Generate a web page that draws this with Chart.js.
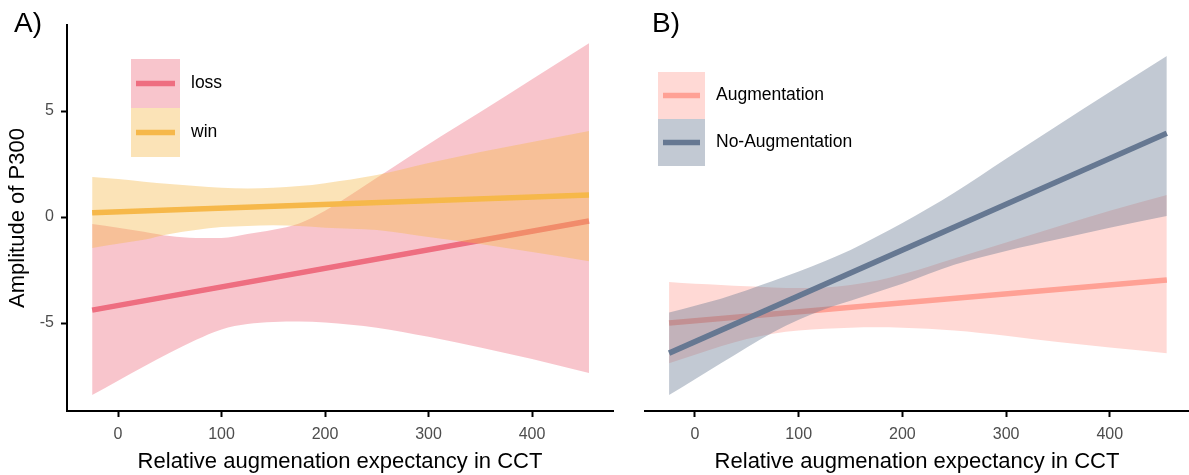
<!DOCTYPE html>
<html>
<head>
<meta charset="utf-8">
<script src="https://cdn.jsdelivr.net/npm/chart.js@4.4.1/dist/chart.umd.min.js"></script>
<style>
  body { margin: 0; background: #fff; }
  #wrap { position: relative; width: 1189px; height: 475px; }
  .panel { position: absolute; top: 0; height: 475px; }
  #panelA { left: 0; width: 620px; }
  #panelB { left: 620px; width: 569px; }
</style>
</head>
<body>
<div id="wrap">
  <div class="panel" id="panelA"><canvas id="chartA"></canvas></div>
  <div class="panel" id="panelB"><canvas id="chartB"></canvas></div>
</div>
<script>
const xGrid = [-25, 0, 25, 50, 75, 100, 125, 150, 175, 200, 250, 300, 350, 400, 455];
const lineX = [-25, 455];

// Panel A: loss / win
const lossUpper = [-0.33, -0.5, -0.69, -0.9, -0.99, -0.99, -0.8, -0.6, -0.3, 0.3, 1.85, 3.44, 4.95, 6.5, 8.2];
const lossLower = [-8.4, -7.72, -7.05, -6.4, -5.8, -5.3, -5.05, -4.95, -4.93, -4.97, -5.22, -5.65, -6.15, -6.7, -7.36];
const lossLine = [-4.39, -0.19];
const winUpper = [1.89, 1.79, 1.67, 1.56, 1.46, 1.38, 1.35, 1.38, 1.46, 1.6, 1.98, 2.55, 3.07, 3.54, 4.06];
const winLower = [-1.46, -1.26, -1.07, -0.8, -0.61, -0.47, -0.42, -0.39, -0.42, -0.5, -0.61, -0.94, -1.27, -1.65, -2.08];
const winLine = [0.2, 1.04];

// Panel B: Augmentation / No-Augmentation
const augUpper = [-3.07, -3.15, -3.2, -3.27, -3.32, -3.35, -3.32, -3.2, -3.0, -2.7, -1.95, -1.2, -0.45, 0.3, 1.04];
const augLower = [-6.9, -6.5, -6.1, -5.75, -5.5, -5.35, -5.27, -5.22, -5.2, -5.22, -5.35, -5.6, -5.9, -6.15, -6.42];
const augLine = [-5.0, -2.97];
const noAugUpper = [-4.5, -4.18, -3.85, -3.45, -3.02, -2.57, -2.08, -1.55, -0.93, -0.28, 1.15, 2.75, 4.33, 5.9, 7.6];
const noAugLower = [-8.4, -7.65, -6.9, -6.15, -5.45, -4.85, -4.35, -3.95, -3.55, -3.15, -2.25, -1.6, -1.05, -0.5, 0.05];
const noAugLine = [-6.42, 3.95];

const xTicks = [0, 100, 200, 300, 400];
const yTicks = [-5, 0, 5];
const xTitle = 'Relative augmenation expectancy in CCT';
const yTitle = 'Amplitude of P300';

Chart.defaults.font.family = '"Liberation Sans", Arial, sans-serif';
Chart.defaults.animation = false;

const pts = (xs, ys) => xs.map((x, i) => ({ x, y: ys[i] }));
const fade = (rgb) => rgb.replace('rgb(', 'rgba(').replace(')', ',0.4)');

// three datasets per group: band top (filled down to band bottom), band bottom, fitted line
function group(label, color, upper, lower, line, first, order) {
  return [
    { label: label + ' upper', data: pts(xGrid, upper), fill: first + 1, backgroundColor: fade(color),
      borderWidth: 0, pointRadius: 0, cubicInterpolationMode: 'monotone', order: order + 1 },
    { label: label + ' lower', data: pts(xGrid, lower), fill: false, borderWidth: 0,
      pointRadius: 0, cubicInterpolationMode: 'monotone', order: order + 1 },
    { label, data: pts(lineX, line), borderColor: color, borderWidth: 5.5, pointRadius: 0,
      fill: false, order }
  ];
}

// legend with filled square keys, plus the panel tag
const keyLegend = {
  id: 'keyLegend',
  afterDatasetsDraw(chart, args, opts) {
    const { ctx } = chart;
    const ds = chart.data.datasets;
    ctx.save();
    opts.items.forEach((it, i) => {
      const top = opts.y + i * opts.size;
      ctx.fillStyle = ds[it[0]].backgroundColor;
      ctx.fillRect(opts.x, top, opts.size, opts.size);
      ctx.strokeStyle = ds[it[1]].borderColor;
      ctx.lineWidth = 5.5;
      ctx.beginPath();
      ctx.moveTo(opts.x + 5, top + opts.size / 2);
      ctx.lineTo(opts.x + opts.size - 5, top + opts.size / 2);
      ctx.stroke();
      ctx.fillStyle = '#000';
      ctx.font = '17.5px "Liberation Sans", Arial, sans-serif';
      ctx.textBaseline = 'middle';
      ctx.fillText(ds[it[1]].label, opts.x + opts.size + 11, top + opts.size / 2);
    });
    ctx.font = '28px "Liberation Sans", Arial, sans-serif';
    ctx.textBaseline = 'alphabetic';
    ctx.fillText(opts.tag, opts.tagX, 32);
    ctx.restore();
  }
};

function xScale(min, max) {
  return {
    type: 'linear', min, max,
    afterBuildTicks: s => { s.ticks = xTicks.map(v => ({ value: v })); },
    afterFit: s => { s.height = 64; },
    grid: { drawOnChartArea: false, tickLength: 6, tickWidth: 2, tickColor: '#000' },
    border: { display: true, color: '#000', width: 2 },
    ticks: { color: '#4d4d4d', font: { size: 16 }, padding: 8, maxRotation: 0 },
    title: { display: true, text: xTitle, color: '#000', font: { size: 22 }, padding: { top: 0, bottom: 0 } }
  };
}

new Chart(document.getElementById('chartA'), {
  type: 'line',
  data: {
    datasets: [
      ...group('loss', 'rgb(238,110,128)', lossUpper, lossLower, lossLine, 0, 3),
      ...group('win', 'rgb(246,184,74)', winUpper, winLower, winLine, 3, 1)
    ]
  },
  options: {
    responsive: true,
    maintainAspectRatio: false,
    layout: { padding: { top: 25, right: 7, left: 0, bottom: 0 } },
    plugins: {
      legend: { display: false },
      tooltip: { enabled: false },
      keyLegend: { items: [[0, 2], [3, 5]], x: 131, y: 59, size: 49, tag: 'A)', tagX: 14 }
    },
    scales: {
      x: xScale(-49.3, 478.2),
      y: {
        type: 'linear', min: -9.15, max: 9.06,
        afterBuildTicks: s => { s.ticks = yTicks.map(v => ({ value: v })); },
        afterFit: s => { s.width = 67; },
        grid: { drawOnChartArea: false, tickLength: 6, tickWidth: 2, tickColor: '#000' },
        border: { display: true, color: '#000', width: 2 },
        ticks: { color: '#4d4d4d', font: { size: 16 }, padding: 7 },
        title: { display: true, text: yTitle, color: '#000', font: { size: 22 }, padding: { top: 5, bottom: 0 } }
      }
    }
  },
  plugins: [keyLegend]
});

new Chart(document.getElementById('chartB'), {
  type: 'line',
  data: {
    datasets: [
      ...group('Augmentation', 'rgb(255,161,149)', augUpper, augLower, augLine, 0, 3),
      ...group('No-Augmentation', 'rgb(102,120,146)', noAugUpper, noAugLower, noAugLine, 3, 1)
    ]
  },
  options: {
    responsive: true,
    maintainAspectRatio: false,
    layout: { padding: { top: 25, right: 0, left: 25, bottom: 0 } },
    plugins: {
      legend: { display: false },
      tooltip: { enabled: false },
      keyLegend: { items: [[0, 2], [3, 5]], x: 38, y: 72, size: 47, tag: 'B)', tagX: 32 }
    },
    scales: {
      x: xScale(-48.2, 476.4),
      y: { type: 'linear', min: -9.15, max: 9.06, display: false }
    }
  },
  plugins: [keyLegend]
});
</script>
</body>
</html>
